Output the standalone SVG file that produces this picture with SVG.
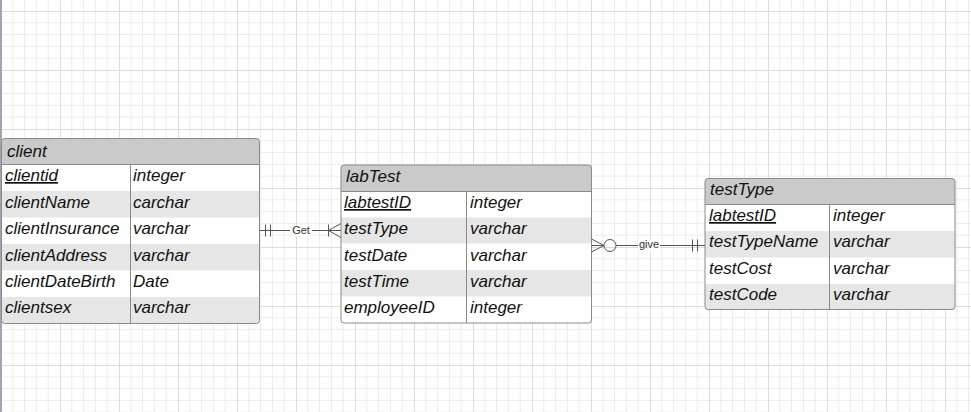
<svg xmlns="http://www.w3.org/2000/svg" width="971" height="412" viewBox="0 0 971 412">
<defs>
<pattern id="grid" patternUnits="userSpaceOnUse" x="1" y="11" width="59" height="59">
<path d="M11.8 0V59M23.6 0V59M35.4 0V59M47.2 0V59M0 11.8H59M0 23.6H59M0 35.4H59M0 47.2H59" stroke="#ececec" stroke-width="1" fill="none"/>
<path d="M0.5 0V59M0 0.5H59" stroke="#dcdcdc" stroke-width="1" fill="none"/>
</pattern>
<clipPath id="c1"><rect x="1.5" y="138.5" width="258" height="185" rx="3"/></clipPath>
<clipPath id="c2"><rect x="341" y="165" width="250.5" height="158" rx="3"/></clipPath>
<clipPath id="c3"><rect x="705" y="178.5" width="250" height="131" rx="3"/></clipPath>
</defs>
<style>
.t{font-family:"Liberation Sans",Arial,sans-serif;font-style:italic;font-size:17px;fill:#111}
.pk{text-decoration:underline}
.hd{fill:#cacaca}
.alt{fill:#e6e6e6}
.bd{fill:none;stroke:#8a8a8a;stroke-width:1}
.dv{stroke:#8a8a8a;stroke-width:1}
.ln{stroke:#555;stroke-width:1;fill:none}
.lb{font-family:"Liberation Sans",Arial,sans-serif;font-size:11px;fill:#333;text-anchor:middle}
</style>
<rect width="971" height="412" fill="#ffffff"/>
<rect width="971" height="412" fill="url(#grid)"/>
<rect x="0" y="0" width="2" height="412" fill="#a0a4b0"/>

<g id="client">
<g clip-path="url(#c1)">
<rect x="1.5" y="138.5" width="258" height="185" fill="#fff"/>
<rect class="hd" x="1.5" y="138.5" width="258" height="26"/>
<rect class="alt" x="1.5" y="191" width="258" height="26.5"/>
<rect class="alt" x="1.5" y="244" width="258" height="26.5"/>
<rect class="alt" x="1.5" y="297" width="258" height="26.5"/>
</g>
<line class="dv" x1="1.5" y1="164.5" x2="259.5" y2="164.5"/>
<line class="dv" x1="130.5" y1="164.5" x2="130.5" y2="323.5"/>
<rect class="bd" x="1.5" y="138.5" width="258" height="185" rx="3"/>
<text class="t" x="7" y="157">client</text>
<text class="t pk" x="5" y="181">clientid</text><text class="t" x="133" y="181">integer</text>
<text class="t" x="5" y="208">clientName</text><text class="t" x="133" y="208">carchar</text>
<text class="t" x="5" y="234">clientInsurance</text><text class="t" x="133" y="234">varchar</text>
<text class="t" x="5" y="261">clientAddress</text><text class="t" x="133" y="261">varchar</text>
<text class="t" x="5" y="287">clientDateBirth</text><text class="t" x="133" y="287">Date</text>
<text class="t" x="5" y="313">clientsex</text><text class="t" x="133" y="313">varchar</text>
</g>

<g id="labTest">
<g clip-path="url(#c2)">
<rect x="341" y="165" width="250.5" height="158" fill="#fff"/>
<rect class="hd" x="341" y="165" width="250.5" height="26.5"/>
<rect class="alt" x="341" y="217.5" width="250.5" height="26"/>
<rect class="alt" x="341" y="270" width="250.5" height="26.5"/>
</g>
<line class="dv" x1="341" y1="191.5" x2="591.5" y2="191.5"/>
<line class="dv" x1="466.5" y1="191.5" x2="466.5" y2="323"/>
<rect class="bd" x="341" y="165" width="250.5" height="158" rx="3"/>
<text class="t" x="346" y="182">labTest</text>
<text class="t pk" x="344" y="208">labtestID</text><text class="t" x="470" y="208">integer</text>
<text class="t" x="344" y="234">testType</text><text class="t" x="470" y="234">varchar</text>
<text class="t" x="344" y="261">testDate</text><text class="t" x="470" y="261">varchar</text>
<text class="t" x="344" y="287">testTime</text><text class="t" x="470" y="287">varchar</text>
<text class="t" x="344" y="313">employeeID</text><text class="t" x="470" y="313">integer</text>
</g>

<g id="testType">
<g clip-path="url(#c3)">
<rect x="705" y="178.5" width="250" height="131" fill="#fff"/>
<rect class="hd" x="705" y="178.5" width="250" height="25.5"/>
<rect class="alt" x="705" y="231" width="250" height="26.5"/>
<rect class="alt" x="705" y="284" width="250" height="26"/>
</g>
<line class="dv" x1="705" y1="204.5" x2="955" y2="204.5"/>
<line class="dv" x1="829.5" y1="204.5" x2="829.5" y2="309.5"/>
<rect class="bd" x="705" y="178.5" width="250" height="131" rx="3"/>
<text class="t" x="710" y="195">testType</text>
<text class="t pk" x="709" y="221">labtestID</text><text class="t" x="833" y="221">integer</text>
<text class="t" x="709" y="247">testTypeName</text><text class="t" x="833" y="247">varchar</text>
<text class="t" x="709" y="274">testCost</text><text class="t" x="833" y="274">varchar</text>
<text class="t" x="709" y="300">testCode</text><text class="t" x="833" y="300">varchar</text>
</g>

<g id="connectors">
<g id="get">
<path class="ln" d="M259.5 230.5H341"/>
<path class="ln" d="M265.5 224.5V236.5M270.5 224.5V236.5"/>
<path class="ln" d="M328.5 224.5V236.5M328.5 230.5L341 223.5M328.5 230.5L341 237.5"/>
<rect x="290" y="225" width="22" height="11" fill="#fff"/>
<text class="lb" x="301" y="234">Get</text>
</g>
<g id="give">
<path class="ln" d="M591.5 245.5H604M616 245.5H705"/>
<path class="ln" d="M591.5 239L604 245.5M591.5 252L604 245.5"/>
<circle class="ln" cx="610" cy="245.5" r="6" fill="#fff"/>
<path class="ln" d="M692.5 239.5V251.5M697.5 239.5V251.5"/>
<rect x="638" y="240" width="22" height="11" fill="#fff"/>
<text class="lb" x="649" y="248">give</text>
</g>
</g>
</svg>
